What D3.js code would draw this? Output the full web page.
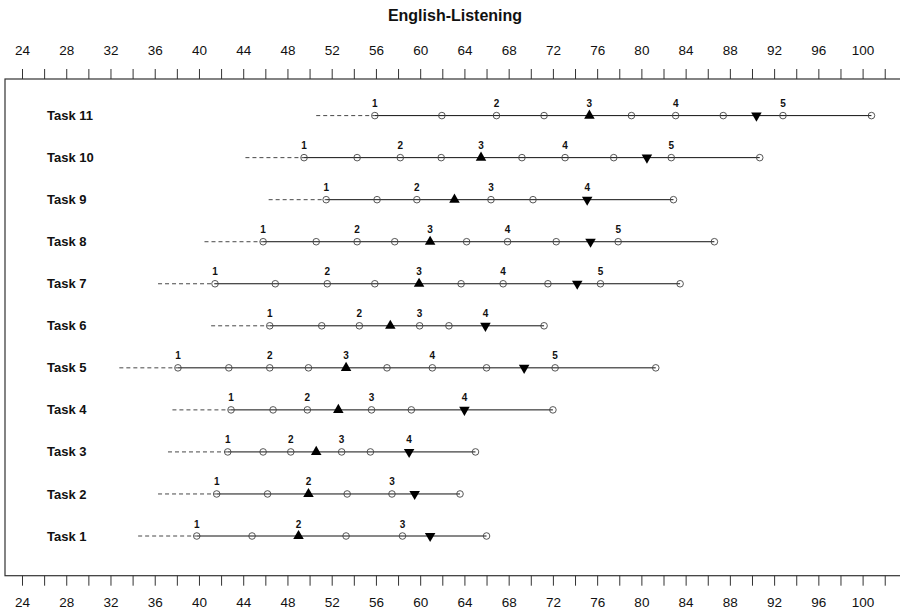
<!DOCTYPE html>
<html>
<head>
<meta charset="utf-8">
<script src="https://cdn.jsdelivr.net/npm/d3@7"></script>
<style>
    html, body { margin: 0; padding: 0; background: #fff; }
    svg text { font-family: "Liberation Sans", Arial, Helvetica, sans-serif; fill: #111; }
</style>
</head>
<body>
<svg id="chart"></svg>
<script>
// =============================================================================
// DATA (Task 1 .. Task 11)
// =============================================================================

const tasks = ['Task 1', 'Task 2', 'Task 3', 'Task 4', 'Task 5', 'Task 6',
               'Task 7', 'Task 8', 'Task 9', 'Task 10', 'Task 11'];

// where the dashed lead-in starts
const dashStart = [34.5, 36.3, 37.2, 37.6, 32.8, 41.1, 36.3, 40.5, 46.3, 44.2, 50.6];

// open circles on each row
const circles = [
    [39.8, 44.8, 53.3, 58.4, 66.0],
    [41.6, 46.2, 53.4, 57.45, 63.6],
    [42.6, 45.8, 48.3, 52.9, 55.5, 65.0],
    [42.9, 46.7, 49.8, 55.6, 59.2, 72.0],
    [38.1, 42.7, 46.4, 49.9, 57.0, 61.1, 66.0, 72.2, 81.3],
    [46.4, 51.1, 54.5, 59.95, 62.6, 71.2],
    [41.45, 46.9, 51.6, 55.9, 63.7, 67.5, 71.55, 76.3, 83.5],
    [45.8, 50.6, 54.3, 57.7, 64.2, 67.9, 72.3, 77.9, 86.6],
    [51.5, 56.1, 59.7, 66.4, 70.2, 82.9],
    [49.5, 54.3, 58.2, 61.9, 69.2, 73.1, 77.5, 82.7, 90.7],
    [55.9, 61.96, 66.9, 71.2, 79.1, 83.1, 87.4, 92.8, 100.8],
];

// filled triangles
const upMark   = [49.0, 49.9, 50.6, 52.6, 53.3, 57.3, 59.9, 60.9, 63.1, 65.5, 75.3];
const downMark = [60.9, 59.5, 59.0, 64.0, 69.4, 65.9, 74.2, 75.4, 75.1, 80.5, 90.4];

// positions carrying the numbers 1, 2, 3 ...
const numbered = [
    [39.8, 49.0, 58.4],
    [41.6, 49.9, 57.45],
    [42.6, 48.3, 52.9, 59.0],
    [42.9, 49.8, 55.6, 64.0],
    [38.1, 46.4, 53.3, 61.1, 72.2],
    [46.4, 54.5, 59.95, 65.9],
    [41.45, 51.6, 59.9, 67.5, 76.3],
    [45.8, 54.3, 60.9, 67.9, 77.9],
    [51.5, 59.7, 66.4, 75.1],
    [49.5, 58.2, 65.5, 73.1, 82.7],
    [55.9, 66.9, 75.3, 83.1, 92.8],
];

const tickValues = d3.range(24, 103, 2);
const chartTitle = 'English-Listening';

// =============================================================================
// RENDER
// =============================================================================

function renderChart() {
    const W = 900, H = 613;
    const box = { left: 5, top: 79, right: 906, bottom: 575.7 };

    const svg = d3.select('#chart').attr('width', W).attr('height', H);

    const x = d3.scaleLinear().domain([24, 100]).range([22, 862.6]);
    const y = d3.scalePoint().domain(tasks).range([536, 115.6]);

    // Title
    svg.append('text')
        .attr('x', 455)
        .attr('y', 21)
        .attr('text-anchor', 'middle')
        .attr('font-size', '16px')
        .attr('font-weight', 'bold')
        .text(chartTitle);

    // Frame
    svg.append('rect')
        .attr('x', box.left).attr('y', box.top)
        .attr('width', box.right - box.left).attr('height', box.bottom - box.top)
        .attr('fill', 'none')
        .attr('stroke', '#333')
        .attr('stroke-width', 1.2);

    const fmt = d => (d % 4 === 0 ? d : '');

    // Top + bottom axes
    svg.append('g')
        .attr('transform', `translate(0,${box.top})`)
        .call(d3.axisTop(x).tickValues(tickValues).tickSize(10).tickPadding(14).tickFormat(fmt))
        .call(styleAxis);

    svg.append('g')
        .attr('transform', `translate(0,${box.bottom})`)
        .call(d3.axisBottom(x).tickValues(tickValues).tickSize(10).tickPadding(12).tickFormat(fmt))
        .call(styleAxis);

    // Rows
    tasks.forEach((task, i) => {
        const cy = y(task);
        const g = svg.append('g');
        const first = circles[i][0];
        const last = circles[i][circles[i].length - 1];

        g.append('text')
            .attr('x', 47)
            .attr('y', cy)
            .attr('dy', '0.35em')
            .attr('font-size', '13px')
            .attr('font-weight', 'bold')
            .text(task);

        // dashed lead-in
        g.append('line')
            .attr('x1', x(dashStart[i])).attr('x2', x(first))
            .attr('y1', cy).attr('y2', cy)
            .attr('stroke', '#333')
            .attr('stroke-width', 0.9)
            .attr('stroke-dasharray', '4 3');

        // solid range
        g.append('line')
            .attr('x1', x(first)).attr('x2', x(last))
            .attr('y1', cy).attr('y2', cy)
            .attr('stroke', '#111')
            .attr('stroke-width', 1);

        g.selectAll('.dot')
            .data(circles[i])
            .enter()
            .append('circle')
            .attr('class', 'dot')
            .attr('cx', d => x(d))
            .attr('cy', cy)
            .attr('r', 3.3)
            .attr('fill', 'none')
            .attr('stroke', '#444')
            .attr('stroke-width', 0.9);

        const tri = d3.symbol(d3.symbolTriangle, 48);
        g.append('path')
            .attr('d', tri)
            .attr('transform', `translate(${x(upMark[i])},${cy})`)
            .attr('fill', '#000');
        g.append('path')
            .attr('d', tri)
            .attr('transform', `translate(${x(downMark[i])},${cy}) rotate(180)`)
            .attr('fill', '#000');

        g.selectAll('.num')
            .data(numbered[i])
            .enter()
            .append('text')
            .attr('class', 'num')
            .attr('x', d => x(d))
            .attr('y', cy - 8.5)
            .attr('text-anchor', 'middle')
            .attr('font-size', '10px')
            .attr('font-weight', 'bold')
            .text((d, k) => k + 1);
    });
}

function styleAxis(ax) {
    ax.select('.domain').remove();
    ax.selectAll('.tick line').attr('stroke', '#333').attr('stroke-width', 1);
    ax.selectAll('.tick text')
        .attr('font-size', '13.5px')
        .attr('font-family', '"Liberation Sans", Arial, Helvetica, sans-serif')
        .attr('fill', '#111');
}

renderChart();
</script>
</body>
</html>
